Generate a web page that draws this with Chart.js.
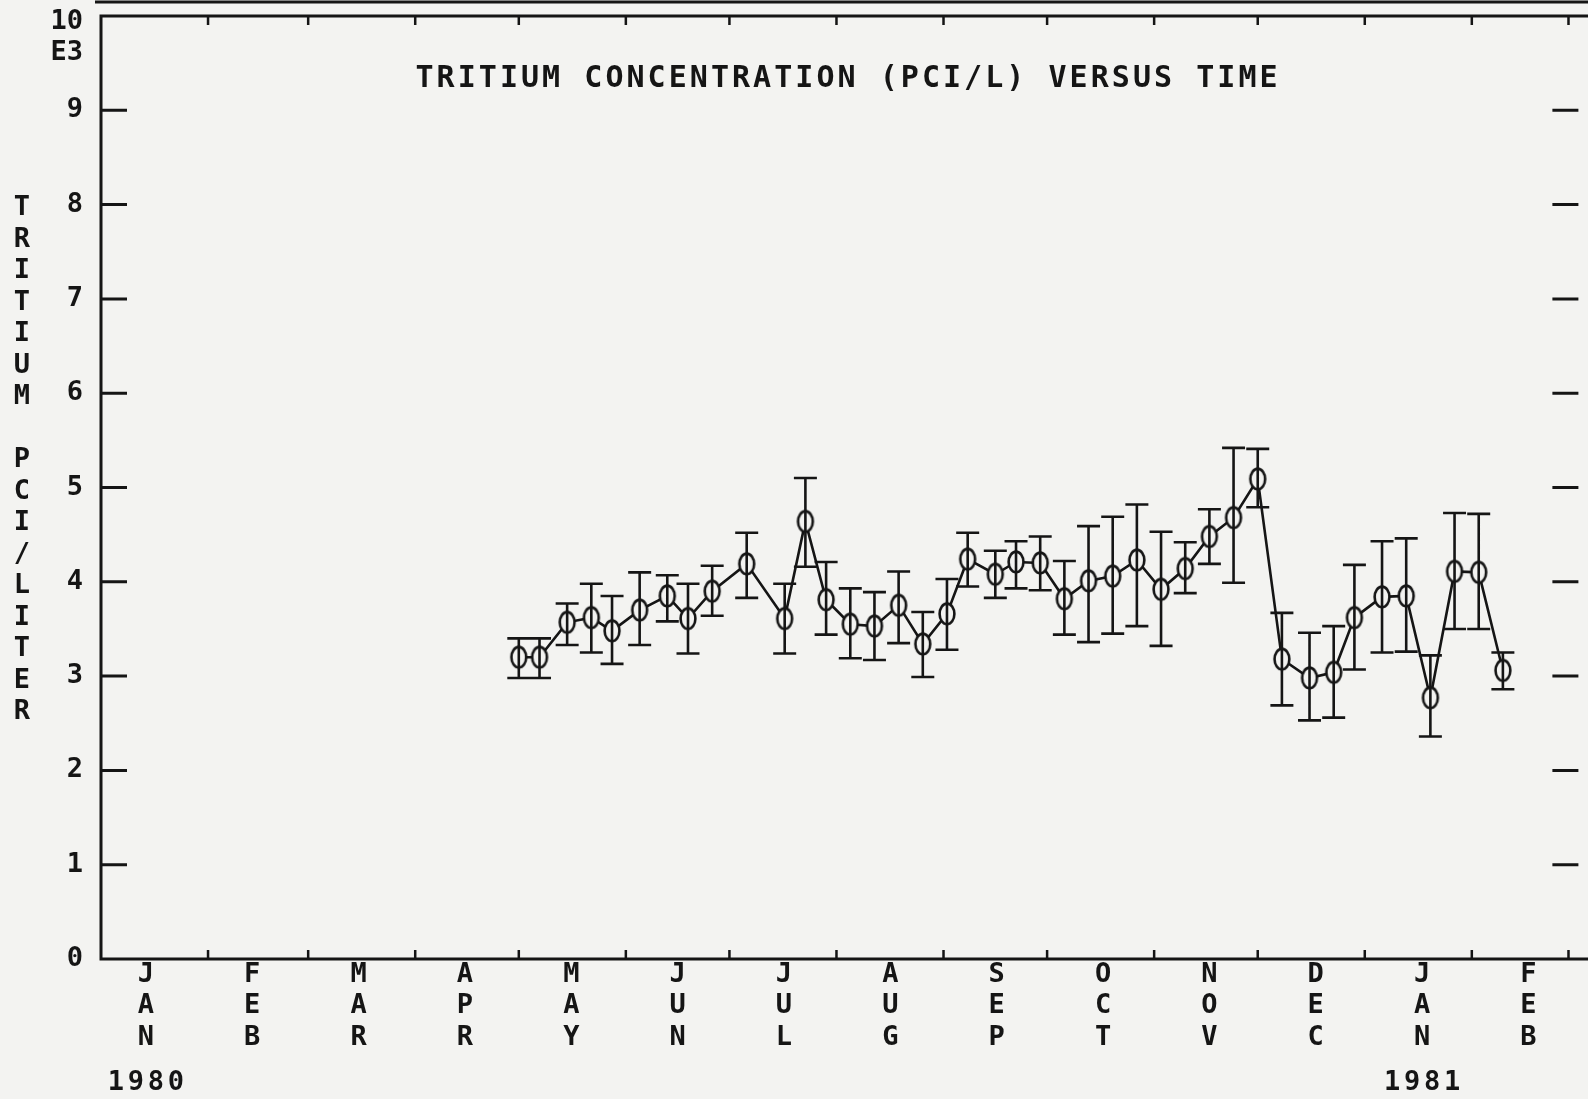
<!DOCTYPE html>
<html>
<head>
<meta charset="utf-8">
<script src="https://cdn.jsdelivr.net/npm/chart.js@4.4.1/dist/chart.umd.min.js"></script>
<style>
  html, body { margin: 0; padding: 0; background: #f3f3f1; overflow: hidden; }
  #wrap { width: 1588px; height: 1099px; position: relative; }
</style>
</head>
<body>
<div id="wrap"><canvas id="c" width="1588" height="1099"></canvas></div>
<script>
// ---- data (days since 1 Jan 1980; tritium in 10^3 pCi/L) ----
const days = [121,127,135,142,148,156,164,170,177,187,198,204,210,217,224,231,238,245,251,259,265,272,279,286,293,300,307,314,321,328,335,342,350,357,363,371,378,385,392,399,406];
const tritium = [3.20,3.20,3.57,3.62,3.48,3.70,3.85,3.61,3.90,4.19,3.61,4.64,3.81,3.55,3.53,3.75,3.34,3.66,4.24,4.08,4.21,4.20,3.82,4.01,4.06,4.23,3.92,4.14,4.48,4.68,5.09,3.18,2.98,3.04,3.62,3.84,3.85,2.77,4.11,4.10,3.06];
const errHigh = [3.40,3.40,3.77,3.98,3.85,4.10,4.07,3.98,4.17,4.52,3.98,5.10,4.21,3.93,3.89,4.11,3.68,4.03,4.52,4.33,4.43,4.48,4.22,4.59,4.69,4.82,4.53,4.42,4.77,5.42,5.41,3.67,3.46,3.53,4.18,4.43,4.46,3.22,4.73,4.72,3.25];
const errLow = [2.98,2.98,3.33,3.25,3.13,3.33,3.58,3.24,3.64,3.83,3.24,4.16,3.44,3.19,3.17,3.35,2.99,3.28,3.95,3.83,3.93,3.91,3.44,3.36,3.45,3.53,3.32,3.88,4.19,3.99,4.79,2.69,2.53,2.56,3.07,3.25,3.26,2.36,3.50,3.50,2.86];
const monthLabels = ['JAN','FEB','MAR','APR','MAY','JUN','JUL','AUG','SEP','OCT','NOV','DEC','JAN','FEB'];
const monthLengths = [31,29,31,30,31,30,31,31,30,31,30,31,31,28];
const yearLabels = ['1980','1981'];
const yTickValues = [0,1,2,3,4,5,6,7,8,9,10];
const titleText = 'TRITIUM CONCENTRATION (PCI/L) VERSUS TIME';
const yTitleText = 'TRITIUM PCI/LITER';
const yExponent = 'E3';

// ---- styling ----
const INK = '#151515';
const BG = '#f3f3f1';
const FONT = '"DejaVu Sans Mono", monospace';

// month boundary days (calendar)
const monthStarts = [];
{ let acc = 0; for (const L of monthLengths) { acc += L; monthStarts.push(acc); } }
// label positions on an even text grid
const labelDays = monthLabels.map((_, i) => 13 + 30.8 * i);

// point marker: open ellipse
const marker = document.createElement('canvas');
marker.width = 20; marker.height = 26;
{
  const m = marker.getContext('2d');
  m.fillStyle = BG;
  m.strokeStyle = INK;
  m.lineWidth = 2.6;
  m.beginPath();
  m.ellipse(10, 13, 7.4, 10.4, 0, 0, Math.PI * 2);
  m.fill();
  m.stroke();
}

function spacedText(ctx, text, xStart, y, pitch) {
  for (let i = 0; i < text.length; i++) {
    ctx.fillText(text[i], xStart + i * pitch + pitch / 2, y);
  }
}

const framePlugin = {
  id: 'frame',
  beforeDraw(chart) {
    const ctx = chart.ctx;
    ctx.save();
    ctx.fillStyle = BG;
    ctx.fillRect(0, 0, chart.width, chart.height);
    ctx.restore();
  },
  beforeDatasetsDraw(chart) {
    const ctx = chart.ctx;
    const a = chart.chartArea;
    const xs = chart.scales.x, ys = chart.scales.y;
    ctx.save();
    ctx.strokeStyle = INK;
    ctx.lineCap = 'butt';
    // axes
    ctx.lineWidth = 3;
    ctx.beginPath();
    ctx.moveTo(a.left, a.top); ctx.lineTo(a.left, a.bottom);
    ctx.moveTo(a.left - 1.5, a.bottom); ctx.lineTo(chart.width, a.bottom);
    ctx.moveTo(a.left - 1.5, a.top); ctx.lineTo(chart.width, a.top);
    ctx.stroke();
    // outer top frame line
    ctx.lineWidth = 3;
    ctx.beginPath();
    ctx.moveTo(a.left - 6, 2); ctx.lineTo(chart.width, 2);
    ctx.stroke();
    // y ticks (inward, both sides)
    ctx.lineWidth = 3;
    ctx.beginPath();
    for (const v of yTickValues) {
      if (v === 0 || v === 10) continue;
      const py = ys.getPixelForValue(v);
      ctx.moveTo(a.left, py); ctx.lineTo(a.left + 26, py);
      ctx.moveTo(a.right - 23, py); ctx.lineTo(a.right + 3, py);
    }
    ctx.stroke();
    // month ticks top & bottom
    ctx.lineWidth = 2.5;
    ctx.beginPath();
    for (const d of monthStarts) {
      const px = xs.getPixelForValue(d);
      if (px > chart.width) continue;
      ctx.moveTo(px, a.bottom); ctx.lineTo(px, a.bottom - 9);
      ctx.moveTo(px, a.top); ctx.lineTo(px, a.top + 9);
    }
    ctx.stroke();
    ctx.restore();
  },
  afterDatasetsDraw(chart) {
    const ctx = chart.ctx;
    const xs = chart.scales.x, ys = chart.scales.y;
    ctx.save();
    ctx.strokeStyle = INK;
    ctx.lineWidth = 2.6;
    ctx.beginPath();
    for (let i = 0; i < days.length; i++) {
      const px = xs.getPixelForValue(days[i]);
      const hi = ys.getPixelForValue(errHigh[i]);
      const lo = ys.getPixelForValue(errLow[i]);
      ctx.moveTo(px, hi); ctx.lineTo(px, lo);
      ctx.moveTo(px - 11.5, hi); ctx.lineTo(px + 11.5, hi);
      ctx.moveTo(px - 11.5, lo); ctx.lineTo(px + 11.5, lo);
    }
    ctx.stroke();
    ctx.restore();
  },
  afterDraw(chart) {
    const ctx = chart.ctx;
    const xs = chart.scales.x, ys = chart.scales.y;
    ctx.save();
    ctx.fillStyle = INK;
    ctx.textAlign = 'center';
    ctx.textBaseline = 'middle';
    // title inside plot
    ctx.font = 'bold 30px ' + FONT;
    spacedText(ctx, titleText, 414, 79, 21.1);
    // vertical stacked y title
    ctx.font = 'bold 27px ' + FONT;
    for (let i = 0; i < yTitleText.length; i++) {
      ctx.fillText(yTitleText[i], 22, 208 + i * 31.5);
    }
    // top label (sits just below the frame line) and exponent under it
    ctx.textAlign = 'right';
    const yTop = ys.getPixelForValue(10);
    ctx.fillText(String(yTickValues[yTickValues.length - 1]), 83, yTop + 6);
    ctx.fillText(yExponent, 83, yTop + 37);
    // year labels under the JAN columns
    ctx.textAlign = 'center';
    const janIdx = [0, 12];
    janIdx.forEach((mi, k) => {
      const cx = xs.getPixelForValue(labelDays[mi]);
      const pitch = 20;
      spacedText(ctx, yearLabels[k], cx - pitch * 2, 1083, pitch);
    });
    ctx.restore();
  }
};

new Chart(document.getElementById('c'), {
  type: 'line',
  data: {
    datasets: [{
      data: days.map((d, i) => ({ x: d, y: tritium[i] })),
      borderColor: INK,
      borderWidth: 2.6,
      tension: 0,
      pointStyle: marker,
      pointRadius: 10,
      pointHoverRadius: 10,
      fill: false
    }]
  },
  options: {
    responsive: false,
    animation: false,
    devicePixelRatio: 1,
    layout: { padding: { top: 16, right: 3, left: 0, bottom: 0 } },
    plugins: { legend: { display: false }, tooltip: { enabled: false }, title: { display: false } },
    scales: {
      x: {
        type: 'linear',
        position: 'bottom',
        min: 0,
        max: 427,
        grid: { display: false, drawTicks: false },
        border: { display: false },
        afterBuildTicks: (scale) => { scale.ticks = labelDays.map(v => ({ value: v })); },
        afterFit: (scale) => { scale.height = 140; scale.paddingLeft = 0; scale.paddingRight = 0; },
        ticks: {
          autoSkip: false,
          maxRotation: 0,
          minRotation: 0,
          padding: 0,
          color: INK,
          font: { family: FONT, size: 27, weight: 'bold', lineHeight: '31.5px' },
          callback: (v, i) => monthLabels[i] ? monthLabels[i].split('') : ''
        }
      },
      y: {
        type: 'linear',
        min: 0,
        max: 10,
        grid: { display: false, drawTicks: false },
        border: { display: false },
        afterBuildTicks: (scale) => { scale.ticks = yTickValues.map(v => ({ value: v })); },
        afterFit: (scale) => { scale.width = 101; scale.paddingTop = 0; scale.paddingBottom = 0; },
        ticks: {
          padding: 18,
          color: INK,
          font: { family: FONT, size: 27, weight: 'bold' },
          callback: (v) => (v === 10 ? '' : String(v))
        }
      }
    }
  },
  plugins: [framePlugin]
});
</script>
</body>
</html>
